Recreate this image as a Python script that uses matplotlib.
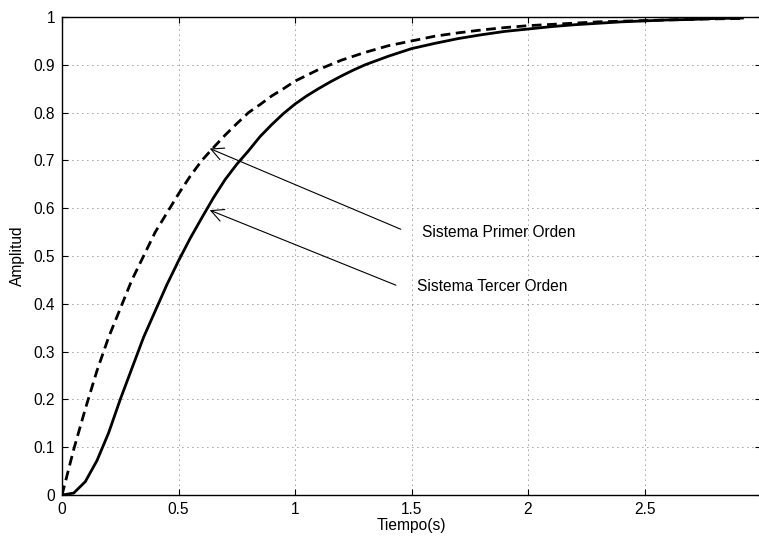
import matplotlib
matplotlib.use("Agg")
import matplotlib.pyplot as plt

# Step responses
t_first = [0, 0.05, 0.1, 0.15, 0.2, 0.25, 0.3, 0.35, 0.4, 0.45, 0.5, 0.55, 0.6,
           0.65, 0.7, 0.75, 0.8, 0.85, 0.9, 0.95, 1.0, 1.1, 1.2, 1.3, 1.4, 1.5,
           1.6, 1.7, 1.8, 1.9, 2.0, 2.15, 2.3, 2.45, 2.6, 2.75, 2.92]
y_first = [0, 0.095, 0.18, 0.26, 0.33, 0.39, 0.45, 0.50, 0.55, 0.59, 0.63, 0.667,
           0.70, 0.727, 0.753, 0.777, 0.80, 0.817, 0.835, 0.85, 0.866, 0.89, 0.91,
           0.926, 0.94, 0.95, 0.96, 0.967, 0.973, 0.978, 0.982, 0.986, 0.99, 0.992,
           0.994, 0.996, 0.997]

t_third = [0, 0.05, 0.1, 0.15, 0.2, 0.25, 0.3, 0.35, 0.4, 0.45, 0.5, 0.55, 0.6,
           0.65, 0.7, 0.75, 0.8, 0.85, 0.9, 0.95, 1.0, 1.05, 1.1, 1.15, 1.2, 1.25,
           1.3, 1.35, 1.4, 1.45, 1.5, 1.6, 1.7, 1.8, 1.9, 2.0, 2.1, 2.2, 2.3, 2.4,
           2.5, 2.6, 2.7, 2.8, 2.92]
y_third = [0, 0.004, 0.028, 0.072, 0.13, 0.20, 0.265, 0.33, 0.385, 0.44, 0.49,
           0.537, 0.58, 0.622, 0.66, 0.692, 0.72, 0.75, 0.775, 0.798, 0.818, 0.835,
           0.85, 0.864, 0.877, 0.889, 0.9, 0.909, 0.918, 0.926, 0.934, 0.945, 0.955,
           0.963, 0.97, 0.975, 0.98, 0.984, 0.987, 0.99, 0.992, 0.994, 0.995, 0.997,
           0.998]

x_ticks = [0, 0.5, 1, 1.5, 2, 2.5]
x_tick_labels = ["0", "0.5", "1", "1.5", "2", "2.5"]
y_ticks = [0, 0.1, 0.2, 0.3, 0.4, 0.5, 0.6, 0.7, 0.8, 0.9, 1]
y_tick_labels = ["0", "0.1", "0.2", "0.3", "0.4", "0.5", "0.6", "0.7", "0.8", "0.9", "1"]

labels = ["Sistema Primer Orden", "Sistema Tercer Orden"]
label_pos = [(1.545, 0.550), (1.524, 0.436)]
arrow_tails = [(1.454, 0.556), (1.433, 0.439)]
arrow_tips = [(0.634, 0.725), (0.634, 0.596)]

plt.rcParams["font.family"] = ["Liberation Sans", "DejaVu Sans"]
plt.rcParams["font.size"] = 11.2

fig = plt.figure(figsize=(7.59, 5.37), dpi=100)
ax = fig.add_axes([0.0817, 0.0782, 0.921, 0.890])

ax.plot(t_first, y_first, color="black", lw=2.0, linestyle=(0, (3.5, 2)))
ax.plot(t_third, y_third, color="black", lw=2.0)

ax.set_xlim(0, 3)
ax.set_ylim(0, 1)
ax.set_xticks(x_ticks)
ax.set_xticklabels(x_tick_labels)
ax.set_yticks(y_ticks)
ax.set_yticklabels(y_tick_labels)
ax.tick_params(direction="in", top=True, right=True, length=4, width=0.8, pad=5)

ax.grid(True, color="0.25", linestyle=(0, (1, 5)), lw=0.6)
for s in ax.spines.values():
    s.set_linewidth(1.0)

for lab, pos, tail, tip in zip(labels, label_pos, arrow_tails, arrow_tips):
    ax.annotate("", xy=tip, xytext=tail,
                arrowprops=dict(arrowstyle="->, head_length=0.8, head_width=0.4",
                                color="black", lw=0.8, shrinkA=0, shrinkB=0))
    ax.text(pos[0], pos[1], lab, ha="left", va="center")

ax.set_xlabel("Tiempo(s)", labelpad=1)
ax.set_ylabel("Amplitud", labelpad=6)

fig.savefig("out.png", dpi=100)
